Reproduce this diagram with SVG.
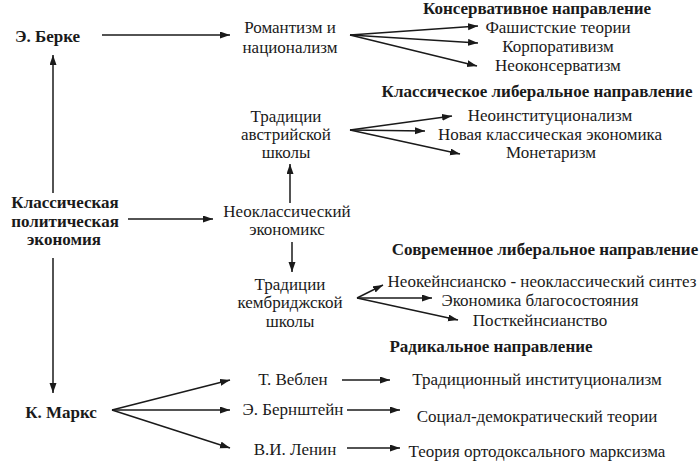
<svg xmlns="http://www.w3.org/2000/svg" width="700" height="462" viewBox="0 0 700 462">
<defs>
<marker id="ah" markerUnits="userSpaceOnUse" markerWidth="11" markerHeight="8" refX="10" refY="3.5" orient="auto">
<path d="M0,0 L10,3.5 L0,7 z" fill="#1a1a1a"/>
</marker>
<style>
.t text{fill:#1a1a1a;text-anchor:middle;font-size:17px}
.b{font-weight:bold}
.c line{stroke:#1a1a1a;stroke-width:1.5;marker-end:url(#ah)}
</style>
</defs>
<rect width="700" height="462" fill="#fff"/>
<g id="connectors" class="c">
<line x1="102" y1="35" x2="230" y2="35"/>
<line x1="350" y1="35" x2="478" y2="26"/>
<line x1="350" y1="35" x2="478" y2="43"/>
<line x1="350" y1="35" x2="477" y2="66"/>
<line x1="350" y1="130" x2="452" y2="116"/>
<line x1="350" y1="130" x2="425" y2="131"/>
<line x1="350" y1="130" x2="460" y2="154"/>
<line x1="290" y1="203" x2="290" y2="164"/>
<line x1="292" y1="242" x2="292" y2="272"/>
<line x1="128" y1="219" x2="213" y2="219"/>
<line x1="53" y1="193" x2="53" y2="55"/>
<line x1="53" y1="258" x2="53" y2="393"/>
<line x1="357" y1="298" x2="383" y2="285"/>
<line x1="357" y1="298" x2="432" y2="298"/>
<line x1="357" y1="298" x2="458" y2="320"/>
<line x1="112" y1="410" x2="230" y2="380"/>
<line x1="112" y1="410" x2="230" y2="410"/>
<line x1="112" y1="410" x2="230" y2="448"/>
<line x1="342" y1="380" x2="390" y2="380"/>
<line x1="347" y1="410" x2="400" y2="410"/>
<line x1="347" y1="448" x2="400" y2="448"/>
</g>
<g class="t" font-family="'Liberation Serif', 'DejaVu Serif', serif">
<g id="berke"><text class="b" x="47.5" y="42">Э. Берке</text></g>
<g id="romantism"><text x="290" y="33">Романтизм и</text><text x="290" y="53">национализм</text></g>
<g id="conservative-head"><text class="b" x="537" y="14">Консервативное направление</text></g>
<g id="fascist"><text x="558" y="33">Фашистские теории</text></g>
<g id="corporativism"><text x="558" y="52">Корпоративизм</text></g>
<g id="neoconservatism"><text x="558" y="71">Неоконсерватизм</text></g>
<g id="classic-liberal-head"><text class="b" x="537" y="97">Классическое либеральное направление</text></g>
<g id="neoinstitutionalism"><text x="550" y="121">Неоинституционализм</text></g>
<g id="new-classical"><text x="550" y="140">Новая классическая экономика</text></g>
<g id="monetarism"><text x="551" y="158">Монетаризм</text></g>
<g id="austrian"><text x="286" y="122">Традиции</text><text x="286" y="140">австрийской</text><text x="286" y="158">школы</text></g>
<g id="classical-pe"><text class="b" x="65" y="208">Классическая</text><text class="b" x="65" y="227">политическая</text><text class="b" x="64" y="245">экономия</text></g>
<g id="neoclassical"><text x="287" y="217">Неоклассический</text><text x="287" y="235">экономикс</text></g>
<g id="cambridge"><text x="290" y="290">Традиции</text><text x="290" y="308">кембриджской</text><text x="290" y="327">школы</text></g>
<g id="modern-liberal-head"><text class="b" x="545" y="255">Современное либеральное направление</text></g>
<g id="neokeynes"><text x="542" y="287">Неокейнсианско - неоклассический синтез</text></g>
<g id="welfare"><text x="540" y="306">Экономика благосостояния</text></g>
<g id="postkeynes"><text x="540" y="326">Посткейнсианство</text></g>
<g id="radical-head"><text class="b" x="491" y="352">Радикальное направление</text></g>
<g id="marx"><text class="b" x="61" y="418">К. Маркс</text></g>
<g id="veblen"><text x="293" y="385">Т. Веблен</text></g>
<g id="bernstein"><text x="293" y="415">Э. Бернштейн</text></g>
<g id="lenin"><text x="295" y="455">В.И. Ленин</text></g>
<g id="trad-inst"><text x="537" y="385">Традиционный институционализм</text></g>
<g id="social-dem"><text x="537" y="422">Социал-демократический теории</text></g>
<g id="orthodox"><text x="537" y="457">Теория ортодоксального марксизма</text></g>
</g>
</svg>
